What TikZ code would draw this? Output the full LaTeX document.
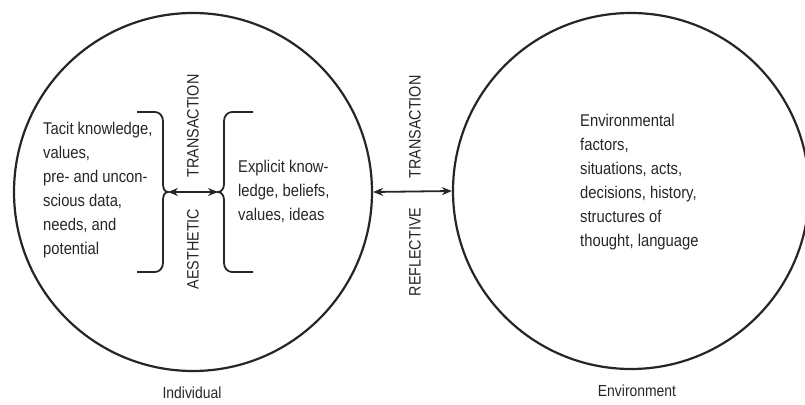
\documentclass[tikz,border=0pt]{standalone}
\usepackage{fontspec}
\setmainfont{Liberation Sans}[FakeStretch=0.87]
\usetikzlibrary{arrows.meta}
\definecolor{ink}{HTML}{262626}
\tikzset{
  ring/.style={circle, draw=ink, line width=2.2pt, inner sep=0pt},
  body/.style={font=\fontsize{17}{24}\selectfont, text=ink, align=left, inner sep=0pt},
  vlabel/.style={font=\fontsize{16.5}{19}\selectfont, text=ink, rotate=90, inner sep=0pt},
  brace/.style={draw=ink, line width=1.8pt},
  dbl/.style={draw=ink, line width=1.8pt, {Stealth[length=10pt,width=8pt]}-{Stealth[length=10pt,width=8pt]}},
  caption/.style={font=\fontsize{16}{18}\selectfont, text=ink, inner sep=0pt}
}
\begin{document}
\begin{tikzpicture}[x=1pt,y=-1pt]
\useasboundingbox (0,0) rectangle (805,404);
% circles
\node[ring, minimum size=358pt] (ind) at (193,192) {};
\node[ring, minimum size=356pt] (env) at (631,191) {};
% left brace
\coordinate (lt) at (168,192);
\draw[brace] (137,112) -- (155,112) to[out=0,in=90] (163,121) -- (163,184)
  to[out=-90,in=180] (lt) to[out=180,in=90] (163,200) -- (163,263)
  to[out=-90,in=0] (155,272) -- (137,272);
% right brace
\coordinate (rt) at (218,192);
\draw[brace] (253,112) -- (232,112) to[out=180,in=90] (224,121) -- (224,184)
  to[out=-90,in=0] (rt) to[out=0,in=90] (224,200) -- (224,263)
  to[out=-90,in=180] (232,272) -- (253,272);
% inner arrow
\draw[dbl] (lt) -- (rt);
% outer arrow
\draw[dbl] (ind.east) -- (env.west);
% vertical labels
\node[vlabel] (tr1) at (193,126) {TRANSACTION};
\node[vlabel] (aes) at (193,249) {AESTHETIC};
\node[vlabel] (tr2) at (415,127) {TRANSACTION};
\node[vlabel] (ref) at (415,252) {REFLECTIVE};
% texts
\node[body, anchor=west] (tacit) at (43,190) {Tacit knowledge,\\values,\\pre- and uncon-\\scious data,\\needs, and\\potential};
\node[body, anchor=west] (expl) at (238,191) {Explicit know-\\ledge, beliefs,\\values, ideas};
\node[body, anchor=west] (envt) at (580,182) {Environmental\\factors,\\situations, acts,\\decisions, history,\\structures of\\thought, language};
% captions
\node[caption] (capi) at (192,393) {Individual};
\node[caption] (cape) at (637,391) {Environment};
\end{tikzpicture}
\end{document}
